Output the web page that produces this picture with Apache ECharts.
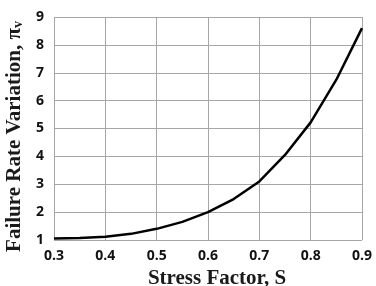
<!DOCTYPE html>
<html>
<head>
<meta charset="utf-8">
<script src="https://cdn.jsdelivr.net/npm/echarts@6/dist/echarts.min.js"></script>
<style>
  html, body { margin: 0; padding: 0; background: #fff; }
  #chart { width: 376px; height: 286px; }
</style>
</head>
<body>
<div id="chart"></div>
<script>
// stress factor S and failure rate variation
const stress = [0.3, 0.35, 0.4, 0.45, 0.5, 0.55, 0.6, 0.65, 0.7, 0.75, 0.8, 0.85, 0.9];
const piV = [1.05, 1.07, 1.12, 1.22, 1.4, 1.65, 2.0, 2.47, 3.1, 4.05, 5.22, 6.75, 8.6];

const titleFont = { fontFamily: "Liberation Serif", fontWeight: "bold", color: "#1a1a1a" };

const chart = echarts.init(document.getElementById("chart"));
const option = {
  animation: false,
  grid: { left: 54, right: 14, top: 17, bottom: 46, outerBoundsMode: "none" },
  xAxis: {
    type: "value",
    min: 0.3,
    max: 0.9,
    interval: 0.1,
    name: "Stress Factor, S",
    nameLocation: "middle",
    nameGap: 21,
    nameTextStyle: Object.assign({ fontSize: 21, padding: [0, 0, 0, 18] }, titleFont),
    axisLine: { show: false },
    axisTick: { show: false },
    axisLabel: {
      margin: 9,
      fontFamily: "Open Sans", fontWeight: "bold", fontSize: 14, color: "#111",
      formatter: v => v.toFixed(1)
    },
    splitLine: { show: true, lineStyle: { color: "#a6a6a6", width: 1 } }
  },
  yAxis: {
    type: "value",
    min: 1,
    max: 9,
    interval: 1,
    name: "{a|Failure Rate Variation, π}{b|v}",
    nameLocation: "middle",
    nameGap: 26,
    nameTextStyle: Object.assign({
      fontSize: 21,
      padding: [0, 16, 0, 0],
      rich: {
        a: Object.assign({ fontSize: 21 }, titleFont),
        b: Object.assign({ fontSize: 14, verticalAlign: "bottom" }, titleFont)
      }
    }, titleFont),
    axisLine: { show: false },
    axisTick: { show: false },
    axisLabel: { margin: 10, fontFamily: "Open Sans", fontWeight: "bold", fontSize: 14, color: "#111" },
    splitLine: { show: true, lineStyle: { color: "#a6a6a6", width: 1 } }
  },
  series: [
    {
      type: "line",
      data: stress.map((s, i) => [s, piV[i]]),
      showSymbol: false,
      smooth: false,
      lineStyle: { color: "#000", width: 2.5 }
    }
  ]
};
chart.setOption(option);
</script>
</body>
</html>
